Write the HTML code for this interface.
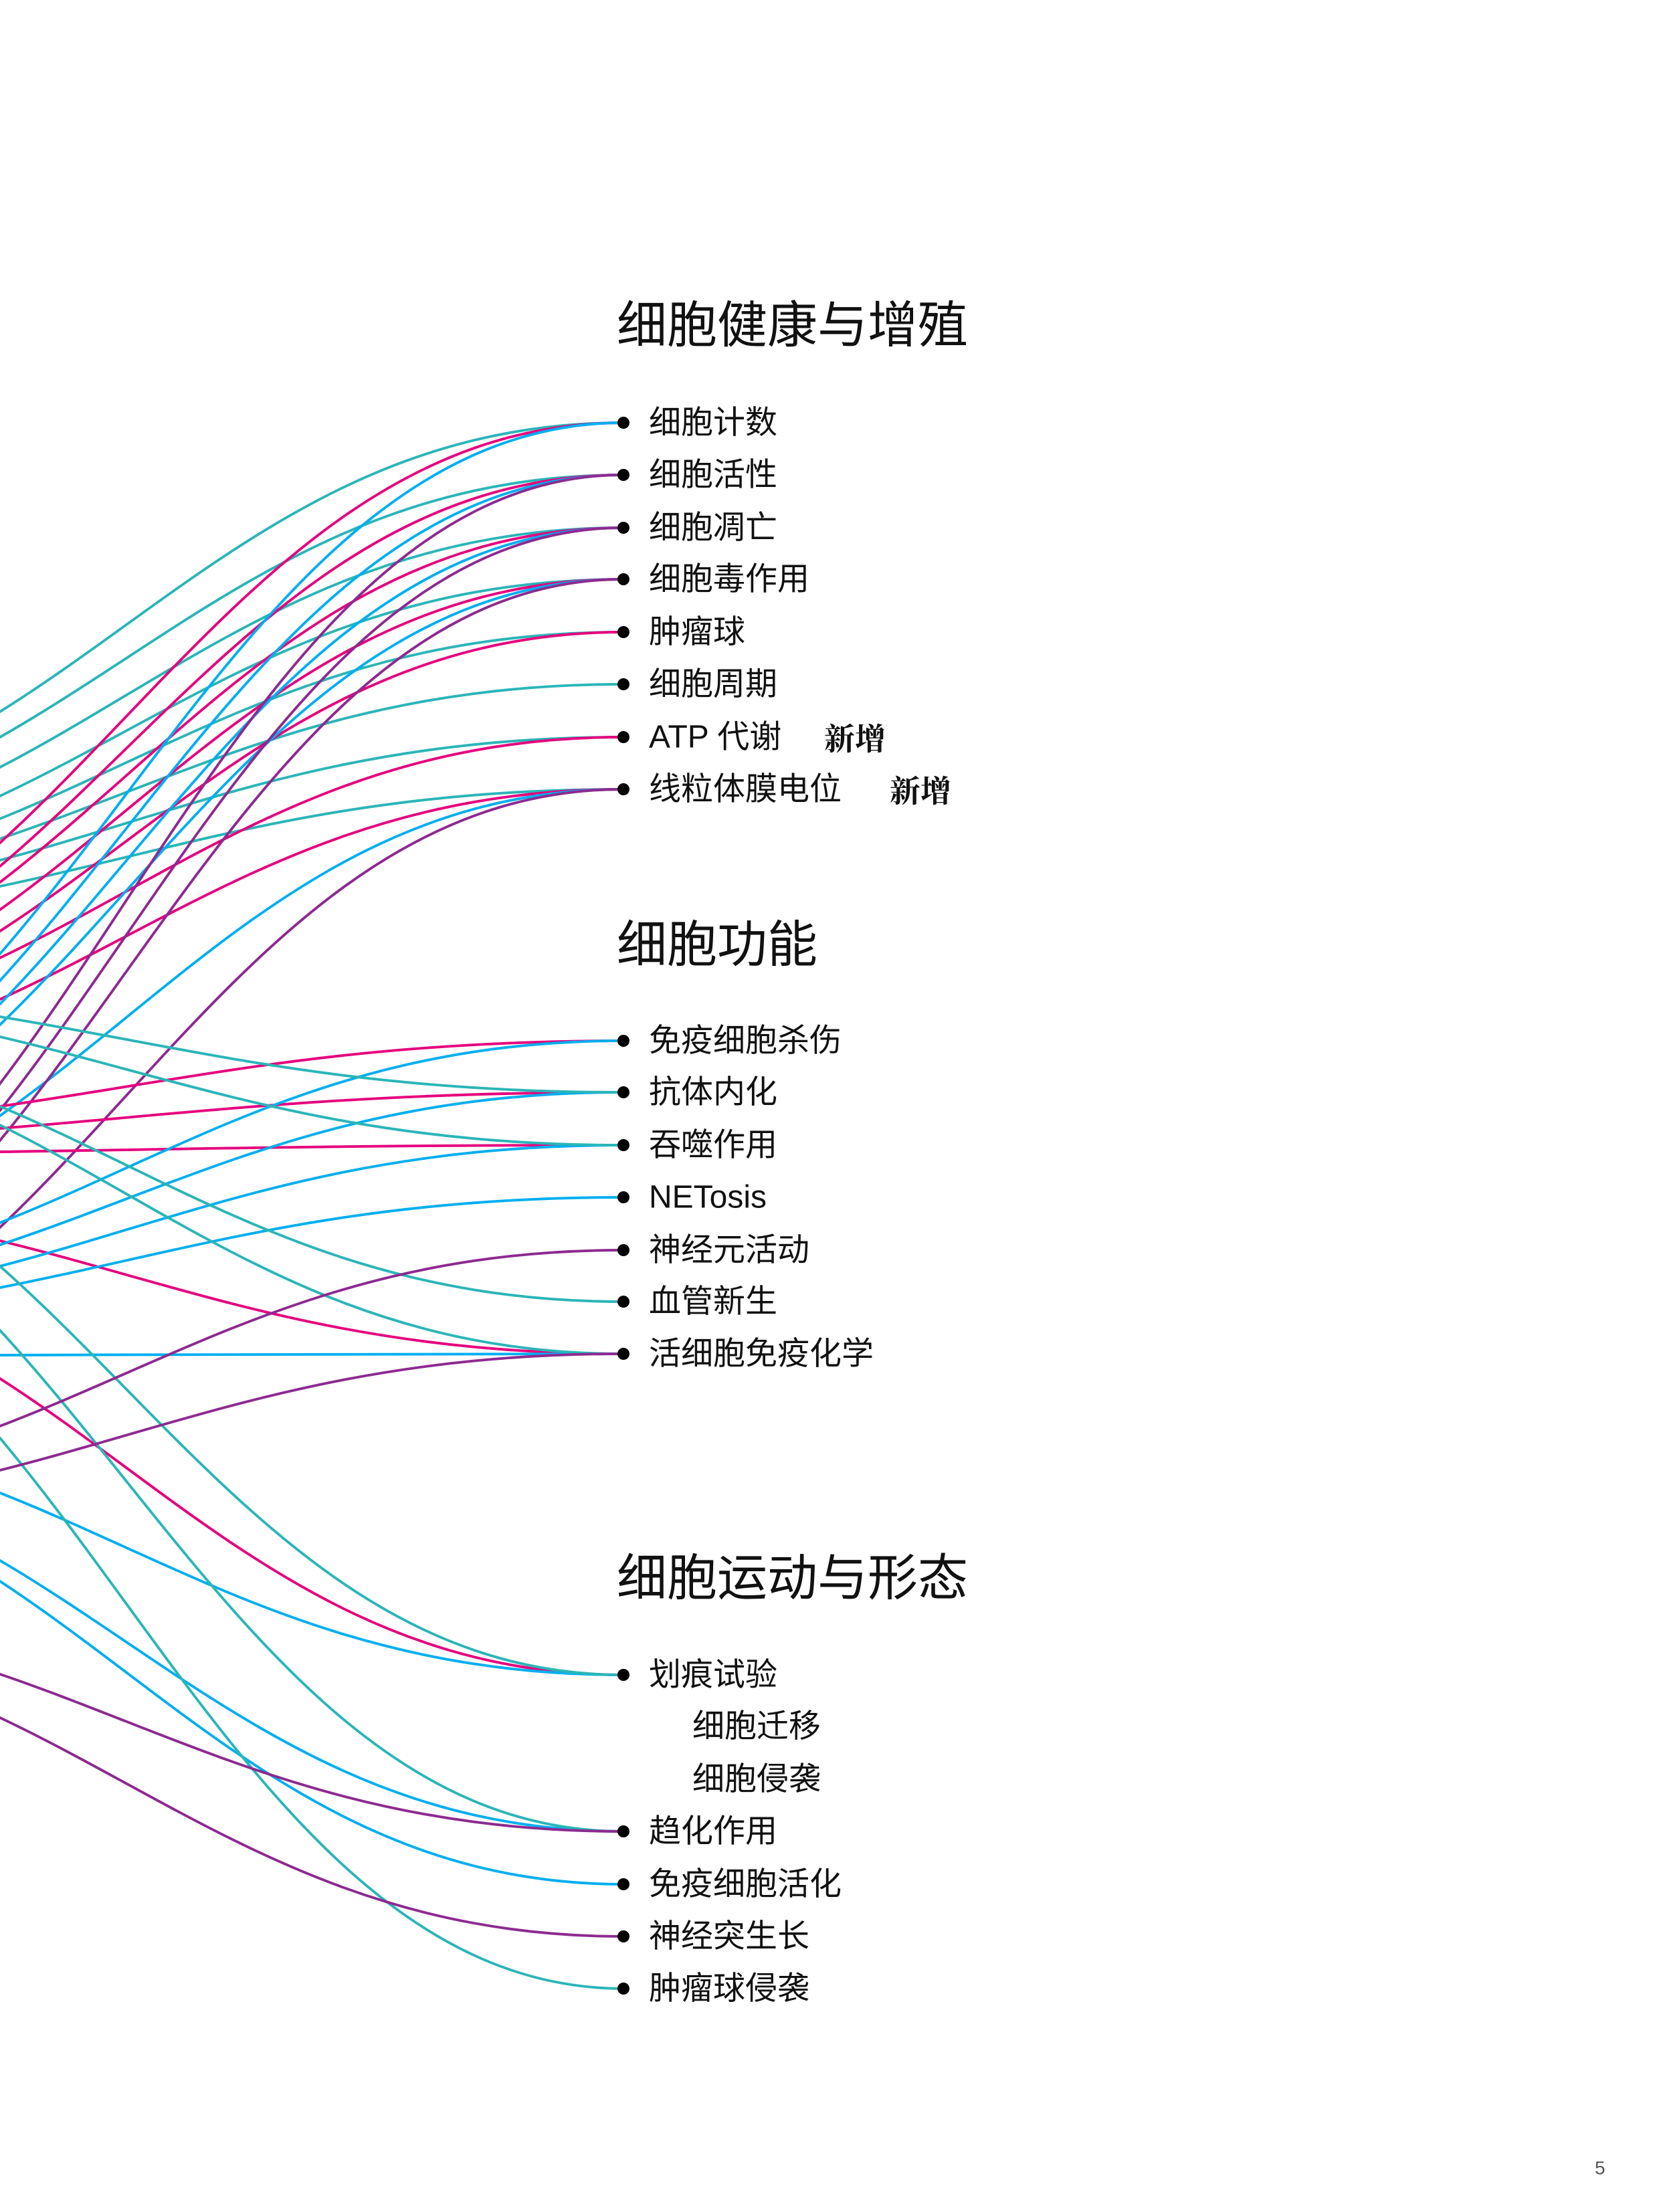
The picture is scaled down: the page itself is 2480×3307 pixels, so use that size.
<!DOCTYPE html>
<html><head><meta charset="utf-8"><style>
html,body{margin:0;padding:0;background:#fff}
svg{display:block}
text{font-family:"Liberation Sans","Noto Sans CJK SC",sans-serif;fill:#111}
.t{font-size:75px}
.l{font-size:48px}
.n{font-family:"Noto Serif CJK SC",serif;font-weight:bold;font-size:46px}
</style></head><body>
<svg width="2480" height="3307" viewBox="0 0 2480 3307" xmlns="http://www.w3.org/2000/svg">
<g id="lines" fill="none" stroke-width="3.9"></g>
<g id="dots" fill="#000"></g>
<text class="t" x="922" y="486" dominant-baseline="central">细胞健康与增殖</text>
<text class="l" x="970" y="632" dominant-baseline="central">细胞计数</text>
<text class="l" x="970" y="710" dominant-baseline="central">细胞活性</text>
<text class="l" x="970" y="789" dominant-baseline="central">细胞凋亡</text>
<text class="l" x="970" y="866" dominant-baseline="central">细胞毒作用</text>
<text class="l" x="970" y="945" dominant-baseline="central">肿瘤球</text>
<text class="l" x="970" y="1023" dominant-baseline="central">细胞周期</text>
<text class="l" x="970" y="1102" dominant-baseline="central">ATP 代谢</text>
<text class="n" x="1232" y="1102" dominant-baseline="central">新增</text>
<text class="l" x="970" y="1180" dominant-baseline="central">线粒体膜电位</text>
<text class="n" x="1330" y="1180" dominant-baseline="central">新增</text>
<text class="t" x="922" y="1412" dominant-baseline="central">细胞功能</text>
<text class="l" x="970" y="1556" dominant-baseline="central">免疫细胞杀伤</text>
<text class="l" x="970" y="1633" dominant-baseline="central">抗体内化</text>
<text class="l" x="970" y="1712" dominant-baseline="central">吞噬作用</text>
<text class="l" x="970" y="1790" dominant-baseline="central">NETosis</text>
<text class="l" x="970" y="1869" dominant-baseline="central">神经元活动</text>
<text class="l" x="970" y="1946" dominant-baseline="central">血管新生</text>
<text class="l" x="970" y="2024" dominant-baseline="central">活细胞免疫化学</text>
<text class="t" x="922" y="2359" dominant-baseline="central">细胞运动与形态</text>
<text class="l" x="970" y="2504" dominant-baseline="central">划痕试验</text>
<text class="l" x="1035" y="2581" dominant-baseline="central">细胞迁移</text>
<text class="l" x="1035" y="2660" dominant-baseline="central">细胞侵袭</text>
<text class="l" x="970" y="2738" dominant-baseline="central">趋化作用</text>
<text class="l" x="970" y="2817" dominant-baseline="central">免疫细胞活化</text>
<text class="l" x="970" y="2895" dominant-baseline="central">神经突生长</text>
<text class="l" x="970" y="2973" dominant-baseline="central">肿瘤球侵袭</text>
<text x="2384" y="3241" style="font-size:28px;fill:#555" dominant-baseline="central">5</text>
<script>
var C={t:"#2bb5b8",m:"#e5007d",b:"#00aeef",p:"#8d2a90"};
var L=[
["t",1064,632],["t",1102,710],["t",1147,789],["t",1190,866],["t",1224,945],["t",1254,1023],["t",1286,1102],["t",1325,1180],
["m",1260,632],["m",1295,710],["m",1319,789],["m",1360,866],["m",1392,945],["m",1432,1102],["m",1494,1180],
["b",1426,632],["b",1466,710],["b",1501,789],["b",1532,866],["b",1668,1180],
["p",1620,710],["p",1660,789],["p",1705,866],["p",1835,1180],
["m",1654,1556],["m",1687,1633],["m",1722,1712],["m",1855,2024],["m",2061,2504],
["b",1828,1556],["b",1861,1633],["b",1893,1712],["b",1925,1790],["b",2026,2024],["b",2232,2504],["b",2333,2738],["b",2364,2817],
["t",1520,1633],["t",1550,1712],["t",1654,1946],["t",1682,2024],["t",1893,2504],["t",1989,2738],["t",2150,2973],
["p",2132,1869],["p",2198,2024],["p",2503,2738],["p",2568,2895]
];
var g=document.getElementById("lines"),ns="http://www.w3.org/2000/svg",tx=932;
L.forEach(function(a){var y0=a[1],ty=a[2],dy=ty-y0,ax=280,bx=420;
var p=document.createElementNS(ns,"path");
p.setAttribute("d","M-20 "+(y0-1.35*dy*20/tx)+" L0 "+y0+" C"+ax+" "+(y0+1.35*dy*ax/tx)+" "+(tx-bx)+" "+ty+" "+tx+" "+ty);
p.setAttribute("stroke",C[a[0]]);g.appendChild(p);});
var d=document.getElementById("dots");
[632,710,789,866,945,1023,1102,1180,1556,1633,1712,1790,1869,1946,2024,2504,2738,2817,2895,2973].forEach(function(y){
var c=document.createElementNS(ns,"circle");c.setAttribute("cx",tx);c.setAttribute("cy",y);c.setAttribute("r",9);d.appendChild(c);});
</script>
</svg>
</body></html>
